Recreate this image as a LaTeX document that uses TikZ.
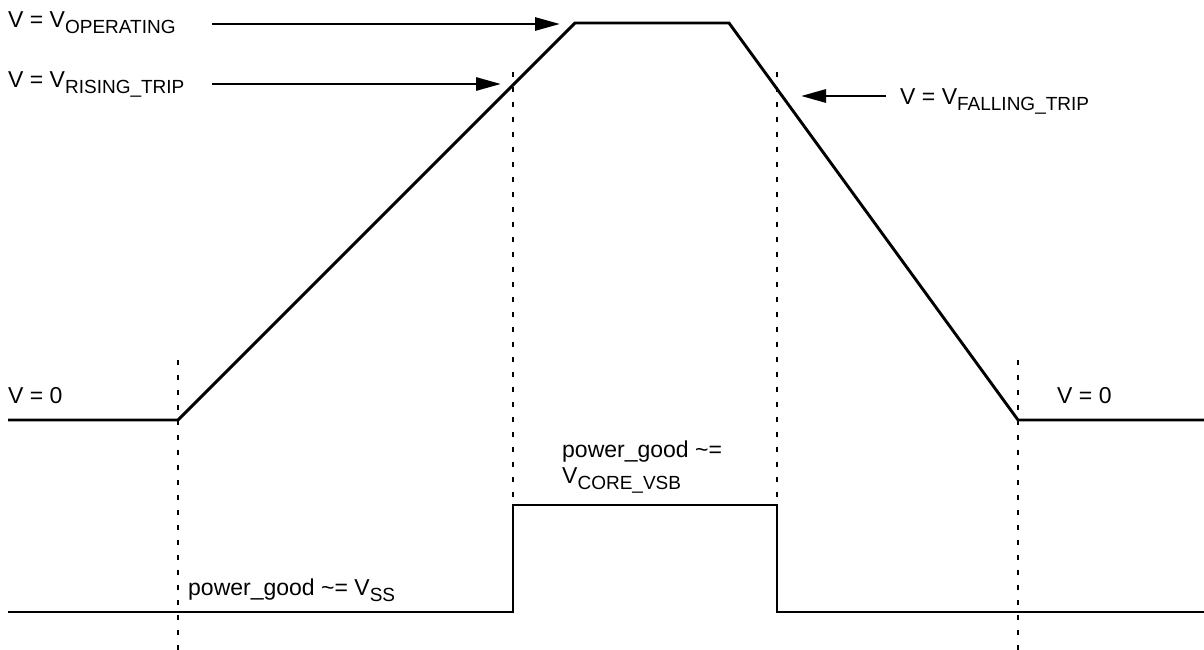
\documentclass[tikz,border=0pt]{standalone}
\usepackage{fontspec}
\setmainfont{Liberation Sans}
\usetikzlibrary{arrows.meta}

\newcommand{\vsub}[1]{\raisebox{-6pt}{\fontsize{19}{22}\selectfont #1}}

\tikzset{
  wave/.style={line width=2.9pt, line join=miter},
  guide/.style={line width=1.9pt, dash pattern=on 5pt off 10pt},
  pointer/.style={line width=2.9pt, -{Triangle[length=25pt,width=13pt]}},
  lbl/.style={anchor=base west, inner sep=0pt, font=\fontsize{23}{27}\selectfont}
}

\begin{document}
\begin{tikzpicture}[x=1pt,y=-1pt]
            \useasboundingbox (0,0) rectangle (1204,650);

            % supply voltage
            \coordinate (S0) at (8,420);
            \coordinate (S1) at (178,420);
            \coordinate (S2) at (575,23);
            \coordinate (S3) at (729,23);
            \coordinate (S4) at (1018,420);
            \coordinate (S5) at (1204,420);

            \draw[wave] (S0)--(S1)--(S2)--(S3)--(S4)--(S5);

            % power_good
            \coordinate (G0) at (8,612);
            \coordinate (G1) at (513,612);
            \coordinate (G2) at (513,505);
            \coordinate (G3) at (777,505);
            \coordinate (G4) at (777,612);
            \coordinate (G5) at (1204,612);

            \draw[wave] (G0)--(G1)--(G2)--(G3)--(G4)--(G5);

            % guides
            \draw[guide] (178,360)--(178,650);
            \draw[guide] (513,72)--(G2);
            \draw[guide] (777,72)--(G3);
            \draw[guide] (1018,360)--(1018,650);

            % trip points
            \coordinate (OpA) at (212,24);
            \coordinate (OpB) at (560,24);
            \coordinate (RiA) at (212,84);
            \coordinate (RiB) at (501,84);
            \coordinate (FaA) at (886,96);
            \coordinate (FaB) at (801,96);

            \draw[pointer] (OpA)--(OpB);
            \draw[pointer] (RiA)--(RiB);
            \draw[pointer] (FaA)--(FaB);

            \node[lbl] (op) at (8,28) {V = V\vsub{OPERATING}};
            \node[lbl] (ri) at (8,88) {V = V\vsub{RISING\_TRIP}};
            \node[lbl] (fa) at (900,105) {V = V\vsub{FALLING\_TRIP}};
            \node[lbl] (lo) at (8,403) {V = 0};
            \node[lbl] (ro) at (1057,403) {V = 0};
            \node[lbl] (hi) at (562,457) {power\_good \textasciitilde=};
            \node[lbl] (hiv) at (562,483) {V\vsub{CORE\_VSB}};
            \node[lbl] (ss) at (188,595) {power\_good \textasciitilde= V\vsub{SS}};
        \end{tikzpicture}
\end{document}
